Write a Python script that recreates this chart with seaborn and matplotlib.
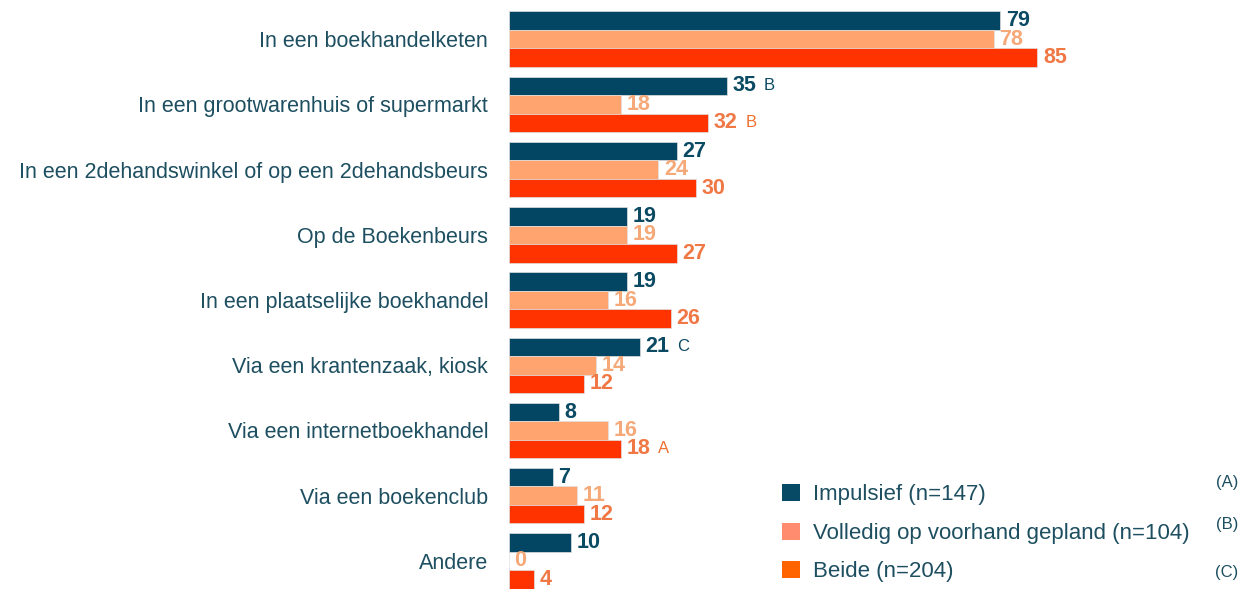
import pandas as pd
import matplotlib.pyplot as plt
import seaborn as sns
from matplotlib.patches import Patch

# Data
categories = ['In een boekhandelketen',
              'In een grootwarenhuis of supermarkt',
              'In een 2dehandswinkel of op een 2dehandsbeurs',
              'Op de Boekenbeurs',
              'In een plaatselijke boekhandel',
              'Via een krantenzaak, kiosk',
              'Via een internetboekhandel',
              'Via een boekenclub',
              'Andere']
impulsief = [79, 35, 27, 19, 19, 21, 8, 7, 10]
gepland = [78, 18, 24, 19, 16, 14, 16, 11, 0]
beide = [85, 32, 30, 27, 26, 12, 18, 12, 4]
series = ['Impulsief (n=147)', 'Volledig op voorhand gepland (n=104)', 'Beide (n=204)']
series_letters = ['(A)', '(B)', '(C)']
# (category index, series index, significance letter)
sig_letters = [(1, 0, 'B'), (1, 2, 'B'), (5, 0, 'C'), (6, 2, 'A')]

bar_colors = ['#034663', '#FFA46E', '#FF3300']
label_colors = ['#0B4A63', '#F5A878', '#F07845']
legend_colors = ['#064A66', '#FF8C6E', '#FF6400']
text_color = '#1D4F60'

df = pd.DataFrame({
    'categorie': categories * 3,
    'reeks': [s for s in series for _ in categories],
    'waarde': impulsief + gepland + beide,
})

sns.set_style('white')
plt.rcParams['font.family'] = ['Liberation Sans', 'DejaVu Sans']

fig = plt.figure(figsize=(12.55, 5.89), dpi=100)
ax = fig.add_axes([509 / 1255, 0, 1 - 509 / 1255, 1])

sns.barplot(data=df, y='categorie', x='waarde', hue='reeks', order=categories,
            hue_order=series, palette=bar_colors, saturation=1, width=0.85,
            orient='h', edgecolor='#E0E0E0', linewidth=0.5, legend=False, ax=ax)

ax.set_xlim(0, 120)
ax.set_ylim(8.43, -0.6)
sns.despine(ax=ax, left=True, bottom=True)
ax.set_xticks([])
ax.set_xlabel('')
ax.set_ylabel('')
ax.tick_params(axis='y', length=0, pad=15, labelsize=15.5, labelcolor=text_color)

for i, cont in enumerate(ax.containers):
    ax.bar_label(cont, padding=4, fontsize=15.5, fontweight='bold', color=label_colors[i])

for cat, ser, letter in sig_letters:
    bar = ax.containers[ser][cat]
    x = bar.get_width()
    y = bar.get_y() + bar.get_height() / 2
    ax.annotate(letter, (x, y), xytext=(27, 0), textcoords='offset points',
                va='center', ha='left', fontsize=12,
                color=label_colors[ser] if ser == 0 else '#F07030')

handles = [Patch(facecolor=c, edgecolor='none') for c in legend_colors]
fig.legend(handles, series, loc='upper left', bbox_to_anchor=(762 / 1255, 1 - 464 / 589),
           frameon=False, fontsize=16, labelcolor=text_color, handlelength=0.8,
           handleheight=0.8, handletextpad=0.6, labelspacing=0.78)

for j, s in enumerate(series_letters):
    fig.text(1238 / 1255, 1 - [482, 524, 573][j] / 589, s, ha='right', va='center',
             fontsize=12, color=text_color)

fig.savefig('out.png', dpi=100)
